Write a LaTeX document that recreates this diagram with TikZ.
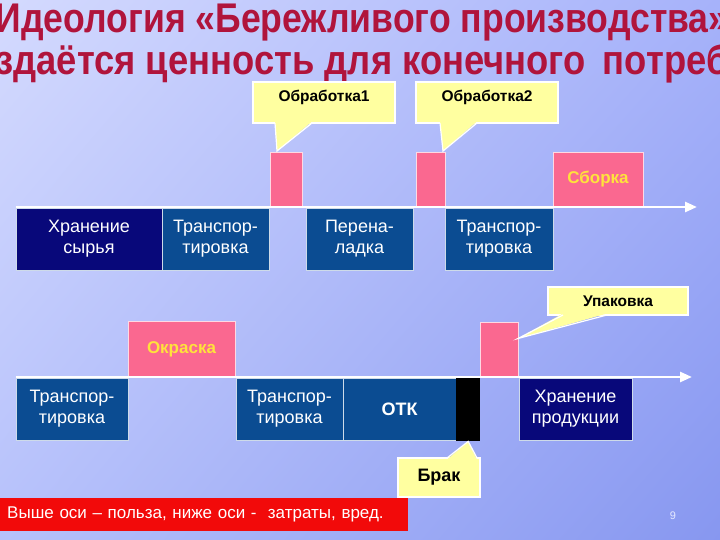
\documentclass[tikz,border=0pt]{standalone}
\usepackage{fontspec}
\setmainfont{Liberation Sans}
\usetikzlibrary{arrows.meta,calc,positioning,shadings}
\definecolor{Title}{HTML}{B0143C}
\definecolor{Navy}{HTML}{08087A}
\definecolor{Steel}{HTML}{0B4C92}
\definecolor{Pink}{HTML}{FA6890}
\definecolor{Gold}{HTML}{FFE23C}
\definecolor{Note}{HTML}{FFFFA0}
\definecolor{Alert}{HTML}{F20A0A}
\definecolor{PageNo}{HTML}{E6EAFF}
\definecolor{BgTL}{HTML}{D4DAFE}
\definecolor{BgTR}{HTML}{A6B2FA}
\definecolor{BgBL}{HTML}{B6C1FB}
\definecolor{BgBR}{HTML}{8797F0}
\tikzset{stage/.style={draw=white!80!Steel,line width=.8pt,fill=Steel,text=white,align=center,inner sep=0pt,outer sep=0pt,minimum height=62,font=\fontsize{18}{21}\selectfont},store/.style={stage,fill=Navy},gain/.style={draw=white!75!Pink,line width=.8pt,fill=Pink,text=Gold,inner sep=0pt,outer sep=0pt,minimum height=55,font=\bfseries\fontsize{17}{20}\selectfont},note/.style={draw=white,line width=1.2pt,fill=Note,inner sep=0pt,outer sep=0pt,font=\bfseries\fontsize{15.5}{18}\selectfont},tail/.style={draw=white,line width=1.2pt},axis/.style={draw=white,line width=2.6pt,-{Triangle[length=12pt,width=10pt]}},title/.style={text=Title,inner sep=0pt,anchor=base,font=\bfseries\fontsize{34}{40}\selectfont}}

\begin{document}
\begin{tikzpicture}[x=1pt,y=-1pt]
      \clip (0,0) rectangle (720,540);
      \shade[upper left=BgTL,upper right=BgTR,lower left=BgBL,lower right=BgBR] (0,0) rectangle (720,540);
      \node[title](head) at (362,33){\scalebox{1.047}[1.22]{Идеология «Бережливого производства»}};
      \node[title](subhead) at (362,75){\scalebox{1.07}[1.22]{здаётся ценность для конечного\hspace{16pt}потреб}};
      % upper line
      \node[store,minimum width=146,anchor=north west](raw) at (16,208){Хранение\\сырья};
      \node[stage,minimum width=107,right=0pt of raw](move1){Транспор-\\тировка};
      \node[gain,minimum width=32,anchor=north west](op1) at (270,152){};
      \node[stage,minimum width=107,anchor=north west](reset) at (306,208){Перена-\\ладка};
      \node[gain,minimum width=29,anchor=north west](op2) at (416,152){};
      \node[stage,minimum width=108,anchor=north west](move2) at (445,208){Транспор-\\тировка};
      \node[gain,minimum width=90,anchor=north west](build) at (553,152){Сборка};
      \coordinate(ax1) at (16,207);\coordinate(ax1e) at (697,207);
      \draw[axis](ax1)--(ax1e);
      % lower line
      \node[stage,minimum width=112,anchor=north west](move3) at (16,378){Транспор-\\тировка};
      \node[gain,minimum width=107,minimum height=56,anchor=north west](paint) at (128,321){Окраска};
      \node[stage,minimum width=107,anchor=north west](move4) at (236,378){Транспор-\\тировка};
      \node[stage,minimum width=113,right=0pt of move4,font=\bfseries\fontsize{18}{21}\selectfont](qc){ОТК};
      \node[fill=black,inner sep=0pt,minimum width=24,minimum height=64,anchor=north west](scrap) at (456,377){};
      \node[gain,minimum width=38,anchor=north west](pack) at (480,322){};
      \node[store,minimum width=113,anchor=north west](keep) at (519,378){Хранение\\продукции};
      \coordinate(ax2) at (16,377);\coordinate(ax2e) at (692,377);
      \draw[axis](ax2)--(ax2e);
      % callouts
      \node[note,minimum width=142,minimum height=41,text depth=13pt,anchor=north west](n1) at (253,82){Обработка1};
      \fill[Note]($(n1.south west)+(22,-1.5)$)--($(op1.north west)+(7,-1)$)--($(n1.south west)+(59,-1.5)$)--cycle;
      \draw[tail]($(n1.south west)+(22,0)$)--($(op1.north west)+(7,-1)$)--($(n1.south west)+(59,0)$);
      \node[note,minimum width=142,minimum height=41,text depth=13pt,anchor=north west](n2) at (416,82){Обработка2};
      \fill[Note]($(n2.south west)+(24,-1.5)$)--($(op2.north east)+(-2,-1)$)--($(n2.south west)+(61,-1.5)$)--cycle;
      \draw[tail]($(n2.south west)+(24,0)$)--($(op2.north east)+(-2,-1)$)--($(n2.south west)+(61,0)$);
      \node[note,minimum width=140,minimum height=28,anchor=north west](n3) at (548,287){Упаковка};
      \fill[Note]($(n3.south west)+(15,-1.5)$)--($(pack.north east)!.3!(pack.south east)$)--($(n3.south west)+(59,-1.5)$)--cycle;
      \draw[tail]($(n3.south west)+(15,0)$)--($(pack.north east)!.3!(pack.south east)$)--($(n3.south west)+(59,0)$);
      \node[note,minimum width=82,minimum height=39,anchor=north west,font=\bfseries\fontsize{18}{21}\selectfont](n4) at (398,458){Брак};
      \fill[Note]($(n4.north west)+(49,1.5)$)--(scrap.south)--($(n4.north west)+(79,1.5)$)--cycle;
      \draw[tail]($(n4.north west)+(49,0)$)--(scrap.south)--($(n4.north west)+(79,0)$);
      % footer
      \node[fill=Alert,text=white,inner xsep=7pt,inner ysep=0pt,minimum height=33,text width=394,align=left,anchor=north west,font=\fontsize{17}{20}\selectfont](moral) at (0,498){Выше оси – польза, ниже оси -~ затраты, вред.};
      \node[text=PageNo,font=\fontsize{11}{13}\selectfont](pg) at (673,516){9};
    \end{tikzpicture}
\end{document}
